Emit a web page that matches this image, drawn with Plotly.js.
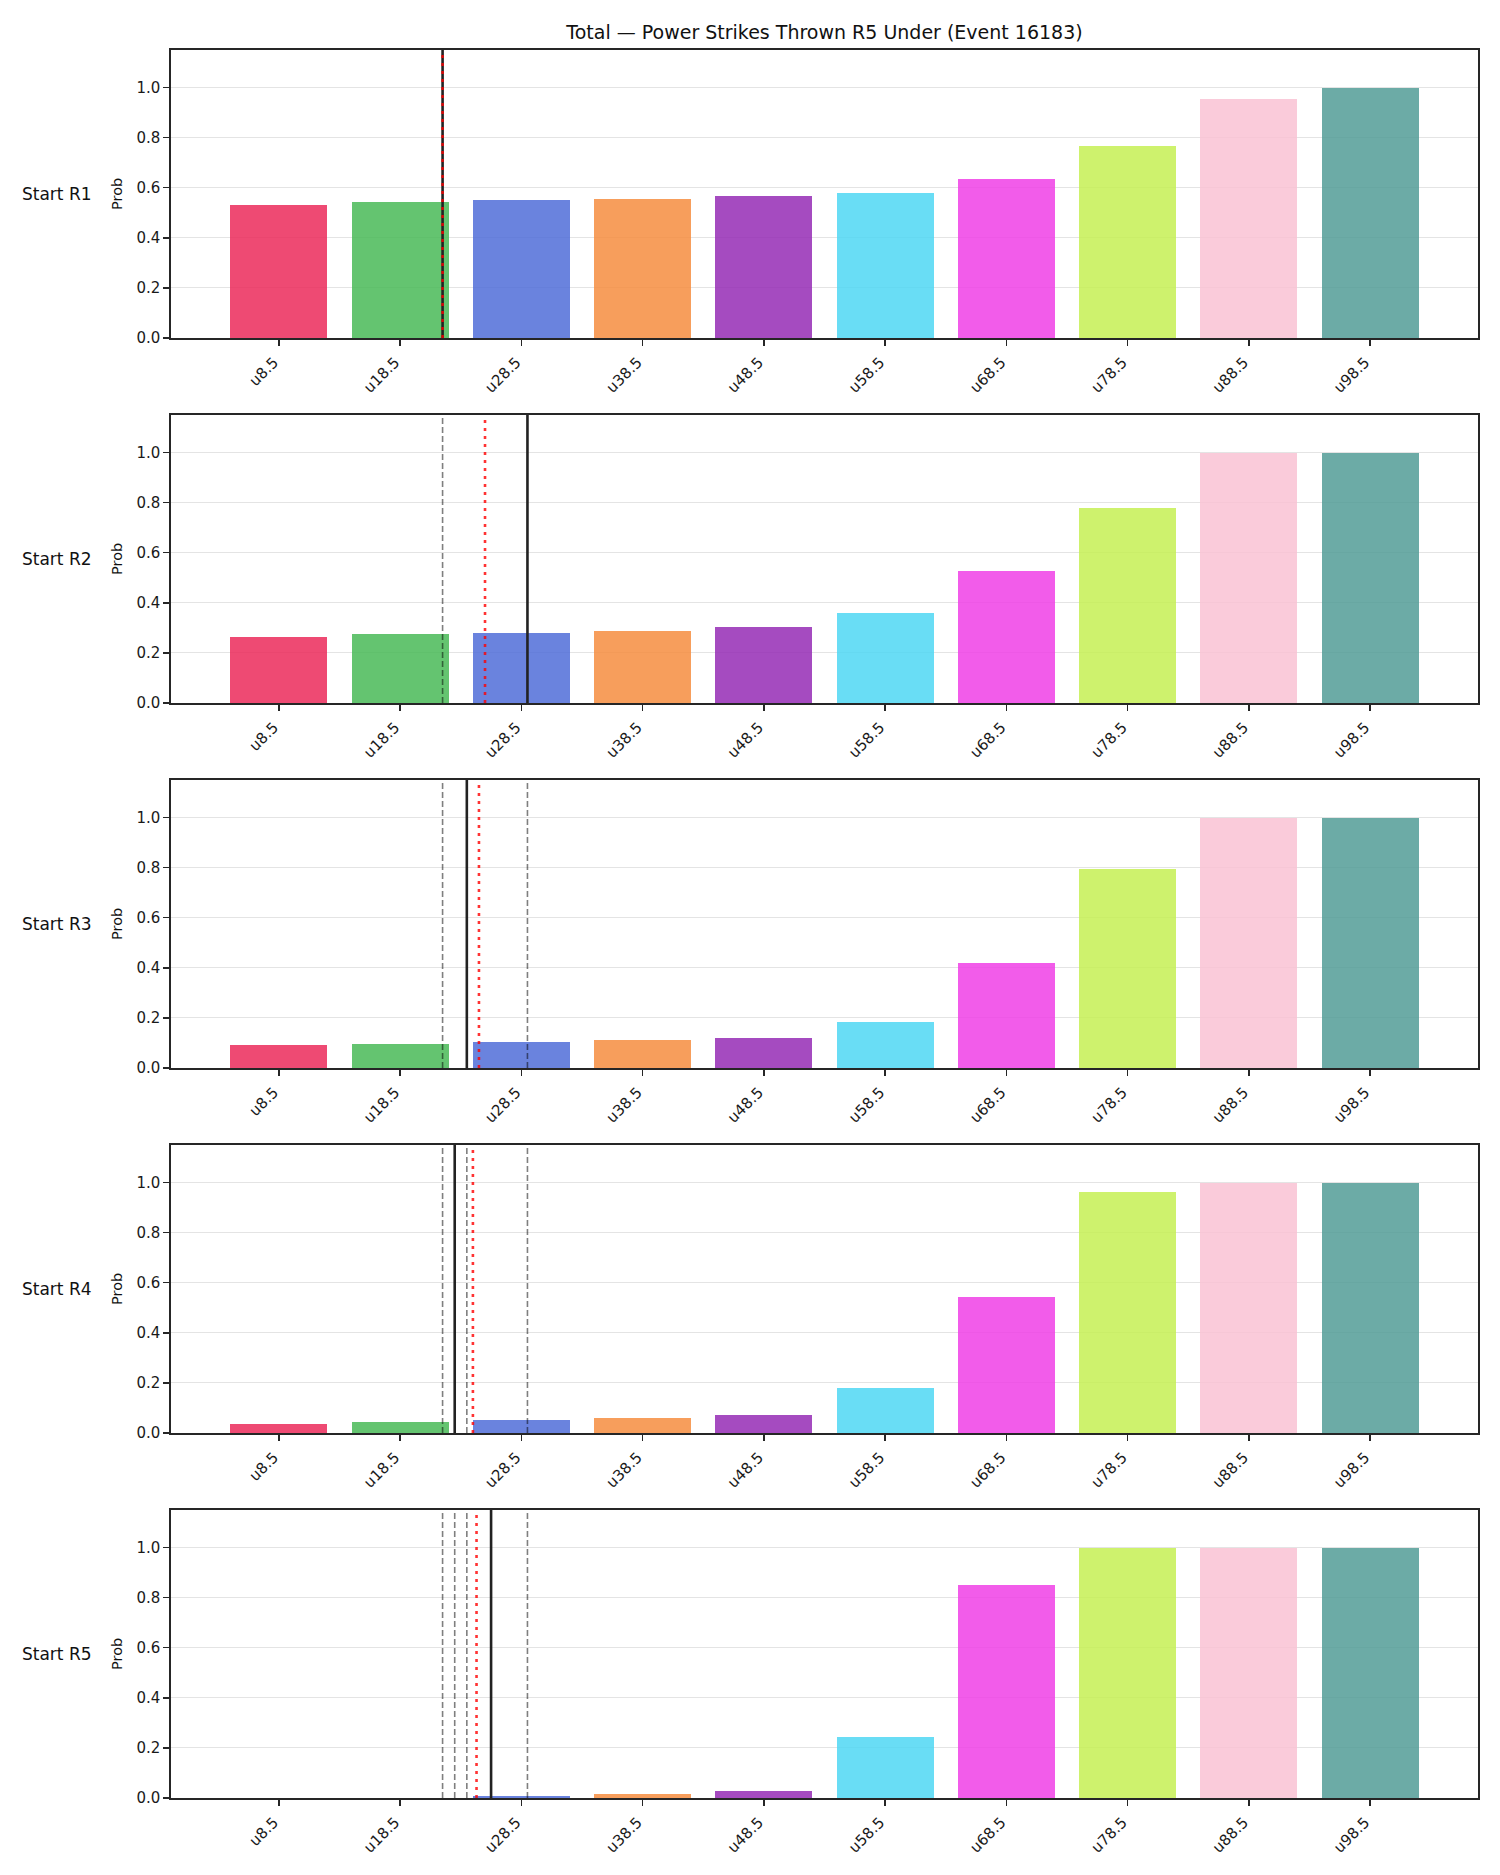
<!DOCTYPE html>
<html>
<head>
<meta charset="utf-8">
<script src="https://cdn.plot.ly/plotly-3.0.1.min.js"></script>
<style>
  html, body { margin: 0; padding: 0; background: #ffffff; }
  #chart { width: 1500px; height: 1875px; }
</style>
</head>
<body>
<div id="chart"></div>
<script>
// Under-lines for total power strikes thrown
const thresholds = [8.5, 18.5, 28.5, 38.5, 48.5, 58.5, 68.5, 78.5, 88.5, 98.5];
const lineLabels = ["u8.5", "u18.5", "u28.5", "u38.5", "u48.5", "u58.5", "u68.5", "u78.5", "u88.5", "u98.5"];

// Panel labels (starting round)
const panelLabels = ["Start R1", "Start R2", "Start R3", "Start R4", "Start R5"];

// Probability of the under, per starting round
const probStartR1 = [0.532, 0.544, 0.552, 0.556, 0.568, 0.580, 0.636, 0.768, 0.953, 0.997];
const probStartR2 = [0.263, 0.276, 0.281, 0.287, 0.305, 0.359, 0.526, 0.780, 0.997, 0.999];
const probStartR3 = [0.091, 0.095, 0.103, 0.110, 0.120, 0.183, 0.418, 0.793, 0.998, 1.000];
const probStartR4 = [0.034, 0.043, 0.051, 0.058, 0.072, 0.178, 0.543, 0.962, 0.999, 1.000];
const probStartR5 = [0.000, 0.002, 0.010, 0.015, 0.027, 0.243, 0.849, 0.998, 1.000, 1.000];

// Power strikes thrown in each round
const roundStrikes = [22, 29, 24, 23, 26];

const titleText = "Total \u2014 Power Strikes Thrown R5 Under (Event 16183)";

const barColors = [
  "rgb(235,42,90)", "rgb(73,186,87)", "rgb(80,109,216)", "rgb(246,141,64)", "rgb(149,43,181)",
  "rgb(79,215,243)", "rgb(240,63,230)", "rgb(197,240,84)", "rgb(249,194,212)", "rgb(82,156,150)"
];

const panels = [probStartR1, probStartR2, probStartR3, probStartR4, probStartR5];

// Map a strike count onto the threshold index axis
function linePos(v) {
  const step = thresholds[1] - thresholds[0];
  return (v - thresholds[0]) / step;
}

const W = 1500, H = 1875;
const axLeft = 171, axRight = 1478;
const firstTop = 50, panelH = 288, panelStep = 365;
const FONT = "DejaVu Sans, Liberation Sans, sans-serif";
const INK = "#262626";

const traces = [];
const layout = {
  width: W, height: H,
  margin: { l: 0, r: 0, t: 0, b: 0 },
  paper_bgcolor: "#ffffff",
  plot_bgcolor: "#ffffff",
  showlegend: false,
  font: { family: FONT, size: 15, color: "#1a1a1a" },
  title: {
    text: titleText,
    x: 824.5 / W, xref: "paper", xanchor: "center",
    y: 1 - 32 / H, yref: "paper", yanchor: "middle",
    font: { family: FONT, size: 19, color: "#111111" }
  },
  bargap: 0,
  shapes: [],
  annotations: []
};

const xIdx = thresholds.map((t, i) => i);

panels.forEach((vals, k) => {
  const sfx = k === 0 ? "" : String(k + 1);
  const xa = "x" + sfx, ya = "y" + sfx;
  const top = firstTop + panelStep * k;
  const bottom = top + panelH;

  traces.push({
    type: "bar",
    x: xIdx,
    y: vals,
    width: 0.8,
    xaxis: xa, yaxis: ya,
    marker: { color: barColors, opacity: 0.85, line: { width: 0 } },
    hoverinfo: "x+y"
  });

  layout["xaxis" + sfx] = {
    domain: [axLeft / W, axRight / W],
    anchor: ya,
    range: [-0.89, 9.89],
    tickmode: "array",
    tickvals: xIdx,
    ticktext: lineLabels,
    tickangle: -45,
    ticklabelshift: -5,
    ticklabelstandoff: 2,
    ticks: "outside", ticklen: 6, tickwidth: 1.4, tickcolor: INK,
    showline: true, linecolor: INK, linewidth: 1.6, mirror: true,
    showgrid: false, zeroline: false,
    tickfont: { family: FONT, size: 15, color: "#1a1a1a" },
    fixedrange: true
  };
  layout["yaxis" + sfx] = {
    domain: [1 - bottom / H, 1 - top / H],
    anchor: xa,
    range: [0, 1.15],
    tickmode: "array",
    tickvals: [0, 0.2, 0.4, 0.6, 0.8, 1.0],
    ticktext: ["0.0", "0.2", "0.4", "0.6", "0.8", "1.0"],
    ticks: "outside", ticklen: 6, tickwidth: 1.4, tickcolor: INK,
    showline: true, linecolor: INK, linewidth: 1.6, mirror: true,
    showgrid: true, gridcolor: "#e4e4e4", gridwidth: 1,
    zeroline: false,
    tickfont: { family: FONT, size: 15, color: "#1a1a1a" },
    fixedrange: true
  };

  const midY = 1 - (top + bottom) / 2 / H;
  layout.annotations.push({
    text: panelLabels[k], xref: "paper", yref: "paper",
    x: 20 / W, y: midY, xanchor: "left", yanchor: "middle",
    showarrow: false, font: { family: FONT, size: 17, color: "#111111" }
  });
  layout.annotations.push({
    text: "Prob", xref: "paper", yref: "paper",
    x: 117 / W, y: midY, xanchor: "center", yanchor: "middle",
    textangle: -90, showarrow: false,
    font: { family: FONT, size: 14.5, color: "#111111" }
  });

  // Earlier rounds as dashed references
  for (let j = 0; j < k; j++) {
    const p = linePos(roundStrikes[j]);
    layout.shapes.push({
      type: "line", xref: xa, yref: ya + " domain",
      x0: p, x1: p, y0: 0, y1: 1,
      line: { color: "rgba(0,0,0,0.5)", width: 1.6, dash: "6px,3px" }
    });
  }
  // This round
  const pNow = linePos(roundStrikes[k]);
  layout.shapes.push({
    type: "line", xref: xa, yref: ya + " domain",
    x0: pNow, x1: pNow, y0: 0, y1: 1,
    line: { color: "#222222", width: 2.6 }
  });
  // Running average up to this round
  const seen = roundStrikes.slice(0, k + 1);
  const avg = seen.reduce((a, b) => a + b, 0) / seen.length;
  const pAvg = linePos(avg);
  layout.shapes.push({
    type: "line", xref: xa, yref: ya + " domain",
    x0: pAvg, x1: pAvg, y0: 0, y1: 1,
    line: { color: "rgba(255,0,0,0.8)", width: 2.6, dash: "3px,5px" }
  });
});

Plotly.newPlot("chart", traces, layout, { staticPlot: true, displayModeBar: false });
</script>
</body>
</html>
